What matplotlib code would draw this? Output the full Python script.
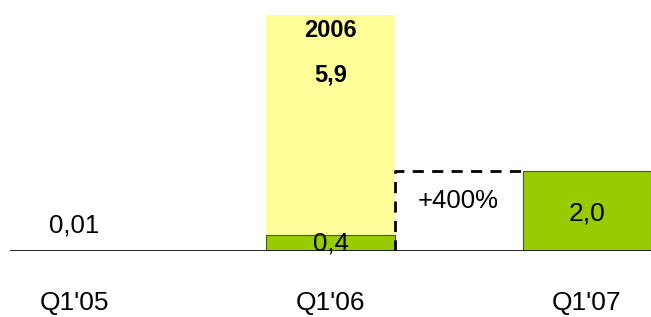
import numpy as np
import matplotlib
matplotlib.use("Agg")
import matplotlib.pyplot as plt

plt.rcParams['font.family'] = ['Liberation Sans', 'DejaVu Sans']

# data
quarters = ["Q1'05", "Q1'06", "Q1'07"]
q1_values = [0.01, 0.4, 2.0]
q1_labels = ["0,01", "0,4", "2,0"]
year_2006 = 5.9
year_label = "5,9"
growth_label = "+400%"

green = "#99CC00"
yellow = "#FFFF99"

fig = plt.figure(figsize=(6.51, 3.17), dpi=100)
# baseline at 251 px from top, 40 px per unit
ax = fig.add_axes([10 / 651, 66 / 317, 641 / 651, 248 / 317])
ax.set_xlim(-0.25, 2.25)
ax.set_ylim(0, 6.2)

x = np.arange(len(quarters))
w = 0.5

# full year 2006 behind the Q1'06 bar
ax.bar(x[1], year_2006, width=w, color=yellow, edgecolor='none', zorder=1)
# quarterly bars (Q1'05 too small to see)
ax.bar(x, q1_values, width=w, color=green, edgecolor='#4d4d4d',
       linewidth=0.8, zorder=2)

# dashed growth box from Q1'06 to Q1'07
ax.plot([x[1] + w / 2, x[1] + w / 2, x[2] - w / 2],
        [0, q1_values[2], q1_values[2]],
        color='black', linestyle=(0, (4, 3)), linewidth=2, zorder=3)

ax.axhline(0, color='black', linewidth=1.2, zorder=4)

# value labels
ax.text(x[0], 0.65, q1_labels[0], ha='center', va='center', fontsize=18.5)
ax.text(x[1], 0.2, q1_labels[1], ha='center', va='center', fontsize=18.5,
        zorder=5)
ax.text(x[2], 0.95, q1_labels[2], ha='center', va='center', fontsize=19)
ax.text(x[1], 5.52, "2006", ha='center', va='center', fontsize=17,
        fontweight='bold')
ax.text(x[1], 4.4, year_label, ha='center', va='center', fontsize=17,
        fontweight='bold')
ax.text((x[1] + x[2]) / 2, 1.25, growth_label, ha='center', va='center',
        fontsize=18.5)

ax.set_xticks(x)
ax.set_xticklabels(quarters, fontsize=19)
ax.tick_params(axis='x', length=0, pad=29)
ax.set_yticks([])
for s in ax.spines.values():
    s.set_visible(False)

fig.savefig("out.png", dpi=100)
